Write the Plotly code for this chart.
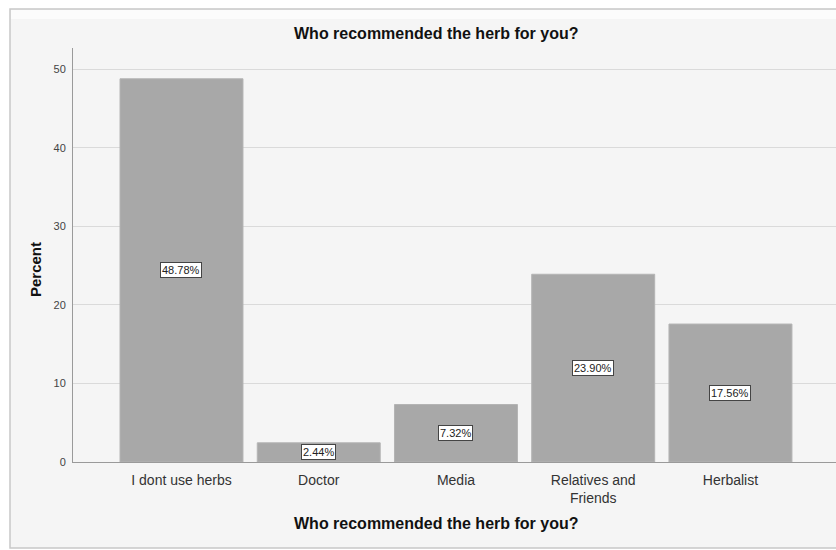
import plotly.graph_objects as go

# Survey responses: who recommended the herb
categories = ["I dont use herbs", "Doctor", "Media", "Relatives and<br>Friends", "Herbalist"]
percent = [48.78, 2.44, 7.32, 23.90, 17.56]
y_ticks = [0, 10, 20, 30, 40, 50]

W, H = 836, 550
ML, MT, MB, MR = 73, 48, 88, 0

x_pos = list(range(len(categories)))

fig = go.Figure()
fig.add_trace(go.Bar(
    x=x_pos,
    y=percent,
    width=0.896,
    marker=dict(color="#a8a8a8", line=dict(color="#b4b4b4", width=1)),
    hoverinfo="skip",
))

# Boxed value labels at the middle of each bar
for xi, v in zip(x_pos, percent):
    fig.add_annotation(
        x=xi, y=v / 2, xref="x", yref="y",
        text=f"{v:.2f}%",
        showarrow=False,
        font=dict(family="Liberation Sans, Arial", size=11, color="#222222"),
        bgcolor="#ffffff",
        bordercolor="#444444",
        borderwidth=1,
        borderpad=1,
    )

fig.update_layout(
    width=W, height=H,
    margin=dict(l=ML, r=MR, t=MT, b=MB, pad=0),
    paper_bgcolor="#ffffff",
    plot_bgcolor="rgba(0,0,0,0)",
    showlegend=False,
    font=dict(family="Liberation Sans, Arial", color="#333333"),
    xaxis=dict(
        range=[-0.7905, 4.769],
        tickmode="array",
        tickvals=x_pos,
        ticktext=categories,
        tickfont=dict(size=14, color="#333333"),
        showgrid=False,
        zeroline=False,
        showline=True,
        linecolor="#9a9a9a",
        linewidth=1,
        ticks="",
        ticklabelstandoff=5,
        fixedrange=True,
    ),
    yaxis=dict(
        range=[0, 52.7],
        tickmode="array",
        tickvals=y_ticks,
        tickfont=dict(size=11, color="#444444"),
        showgrid=True,
        gridcolor="#dadada",
        gridwidth=1,
        zeroline=False,
        showline=True,
        linecolor="#9a9a9a",
        linewidth=1,
        ticks="",
        ticklabelstandoff=4,
        fixedrange=True,
    ),
)

# Chart frame: light grey panel with a lighter bevel along the top
fig.add_shape(type="rect", xref="paper", yref="paper",
              x0=(10 - ML) / (W - ML - MR), x1=(900 - ML) / (W - ML - MR),
              y0=(H - MB - 548) / (H - MT - MB), y1=(H - MB - 9) / (H - MT - MB),
              fillcolor="#f5f5f5", line=dict(color="#c8c8c8", width=1.5), layer="below")
fig.add_shape(type="rect", xref="paper", yref="paper",
              x0=(11 - ML) / (W - ML - MR), x1=(900 - ML) / (W - ML - MR),
              y0=(H - MB - 19) / (H - MT - MB), y1=(H - MB - 10) / (H - MT - MB),
              fillcolor="#fcfcfc", line=dict(width=0), layer="below")

# Chart title, axis titles
fig.add_annotation(xref="paper", yref="paper",
                   x=(436 - ML) / (W - ML - MR), y=(H - MB - 33) / (H - MT - MB),
                   text="<b>Who recommended the herb for you?</b>", showarrow=False,
                   font=dict(size=16, color="#111111"), xanchor="center", yanchor="middle")
fig.add_annotation(xref="paper", yref="paper",
                   x=(436 - ML) / (W - ML - MR), y=(H - MB - 523) / (H - MT - MB),
                   text="<b>Who recommended the herb for you?</b>", showarrow=False,
                   font=dict(size=16, color="#111111"), xanchor="center", yanchor="middle")
fig.add_annotation(xref="paper", yref="paper",
                   x=(35 - ML) / (W - ML - MR), y=(H - MB - 270) / (H - MT - MB),
                   text="<b>Percent</b>", showarrow=False, textangle=-90,
                   font=dict(size=15, color="#111111"), xanchor="center", yanchor="middle")

fig.write_html("out.html", config={"displayModeBar": False})
